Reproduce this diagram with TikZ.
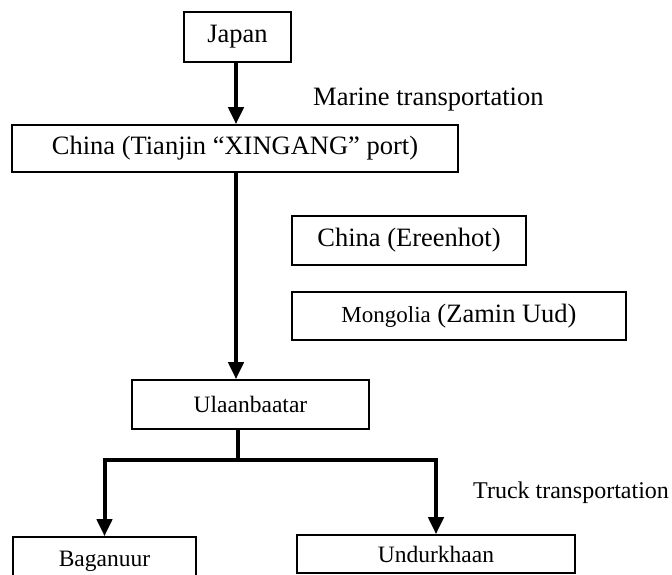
\documentclass[tikz,border=0pt]{standalone}
\usepackage{fontspec}
\setmainfont{Liberation Serif}
\usetikzlibrary{arrows.meta}
\begin{document}
\begin{tikzpicture}[x=1pt,y=-1pt,
  box/.style={draw, line width=1.6pt, inner sep=0pt},
  flow/.style={line width=4pt, -{Triangle[length=17pt,width=15pt]}},
  trunk/.style={line width=4pt},
  label/.style={inner sep=0pt, anchor=west},
  big/.style={font=\fontsize{26.5}{31}\selectfont},
  mid/.style={font=\fontsize{23.5}{28}\selectfont}]
\useasboundingbox (0,0) rectangle (672,575);

% places along the route
\node[box, big, minimum width=107pt, minimum height=50pt] (japan) at (237.5,37) {Japan};
\node[box, big, minimum width=446pt, minimum height=47pt] (china) at (235,148.5) {China (Tianjin “XINGANG” port)};
\node[box, big, minimum width=234pt, minimum height=49pt] (ereen) at (409,240.5) {China (Ereenhot)};
\node[box, big, minimum width=334pt, minimum height=48pt] (zamin) at (459,316) {{\fontsize{23}{27}\selectfont Mongolia} (Zamin Uud)};
\node[box, mid, minimum width=237pt, minimum height=49pt] (ulaan) at (250.5,404.5) {Ulaanbaatar};
\node[box, mid, minimum width=183pt, minimum height=48pt] (bag) at (104.5,561) {Baganuur};
\node[box, mid, minimum width=278pt, minimum height=38pt] (und) at (436,554) {Undurkhaan};

% transport modes
\node[label, big] (marine) at (313,100) {Marine transportation};
\node[label, font=\fontsize{24}{28}\selectfont] (truck) at (473,493) {Truck transportation};

% connectors
\coordinate (sea) at (236,0);
\coordinate (rail) at (236,0);
\draw[flow] (japan.south -| sea) -- (china.north -| sea);
\draw[flow] (china.south -| rail) -- (ulaan.north -| rail);
\coordinate (fork) at (238,460);
\draw[trunk] (ulaan.south -| fork) -- (fork);
\draw[flow] (fork) -| (bag.north);
\draw[flow] (fork) -| (und.north);
\end{tikzpicture}
\end{document}
